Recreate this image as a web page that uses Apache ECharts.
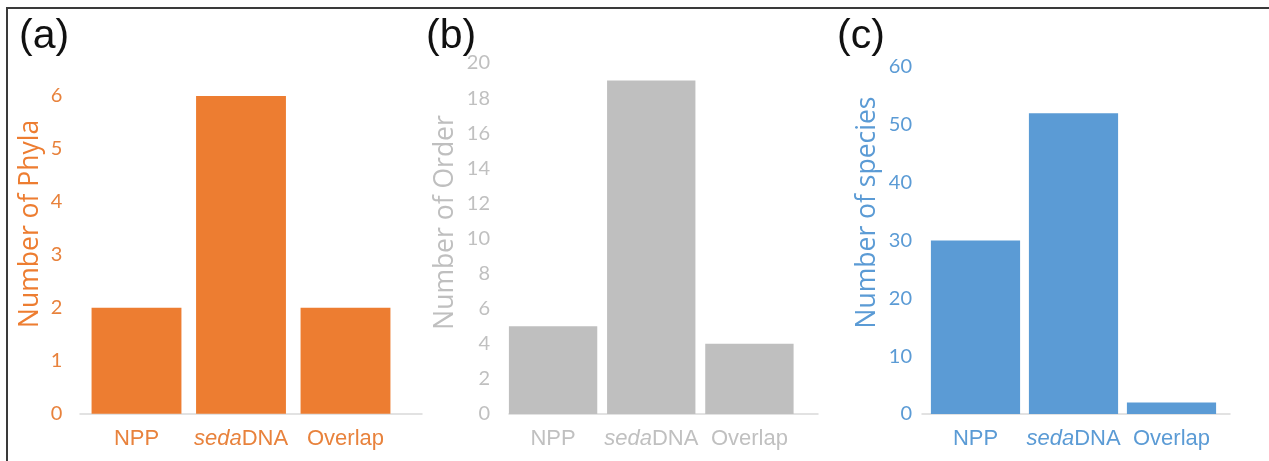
<!DOCTYPE html>
<html>
<head>
<meta charset="utf-8">
<script src="https://cdn.jsdelivr.net/npm/echarts@6/dist/echarts.min.js"></script>
<style>
html,body{margin:0;padding:0;background:#fff;}
#chart{width:1269px;height:461px;}
</style>
</head>
<body>
<div id="chart"></div>
<script>
// ---- data ----
const categories = ['NPP', 'sedaDNA', 'Overlap'];
const phylaCounts = [2, 6, 2];
const orderCounts = [5, 19, 4];
const speciesCounts = [30, 52, 2];
const panelLetters = ['(a)', '(b)', '(c)'];
const axisTitles = ['Number of Phyla', 'Number of Order', 'Number of species'];
const axisMax = [6, 20, 60];
const axisStep = [1, 2, 10];

// ---- styling / layout ----
const colors = ['#ED7D31', '#BFBFBF', '#5B9BD5'];
const textColors = ['#E8823C', '#C0C0C0', '#5B9BD5'];
const values = [phylaCounts, orderCounts, speciesCounts];
const barGrids = [
  {left: 84.25, width: 313.5, top: 96, height: 317.7},
  {left: 504, width: 294.5, top: 63, height: 351},
  {left: 926.5, width: 294, top: 67, height: 347}
];
const lineGrids = [
  {left: 80, width: 342},
  {left: 509, width: 309},
  {left: 922, width: 308}
];
const gaps = ['14%', '10%', '9%'];
const labelMargins = [22, 14, 14.5];
const nameGaps = [40, 45, 46];
const nameShift = [62, 32, 56];
const letterPos = [[19, 16], [426, 16], [837, 16]];

const grid = [], xAxis = [], yAxis = [], series = [], graphic = [];
for (let p = 0; p < 3; p++) {
  const g = barGrids[p];
  grid.push({left: g.left, width: g.width, top: g.top, height: g.height, containLabel: false});
  grid.push({left: lineGrids[p].left, width: lineGrids[p].width, top: g.top, height: g.height, containLabel: false});
  // bar grid axes
  xAxis.push({
    type: 'category', gridIndex: 2 * p, data: categories,
    axisLine: {show: false}, axisTick: {show: false},
    axisLabel: {
      interval: 0, margin: 14, color: textColors[p], fontSize: 22,
      fontFamily: 'Liberation Sans, Arial, sans-serif',
      formatter: v => v === 'sedaDNA' ? '{i|seda}{n|DNA}' : '{n|' + v + '}',
      rich: {
        i: {fontStyle: 'italic', fontSize: 22, color: textColors[p], fontFamily: 'Liberation Sans, Arial, sans-serif'},
        n: {fontSize: 22, color: textColors[p], fontFamily: 'Liberation Sans, Arial, sans-serif'}
      }
    }
  });
  yAxis.push({
    type: 'value', gridIndex: 2 * p, min: 0, max: axisMax[p], interval: axisStep[p],
    splitLine: {show: false}, axisLine: {show: false}, axisTick: {show: false},
    axisLabel: {margin: labelMargins[p], color: textColors[p], fontSize: 20, fontFamily: 'Lato, sans-serif'},
    name: axisTitles[p], nameLocation: 'middle', nameRotate: 90, nameGap: nameGaps[p],
    nameTextStyle: {color: colors[p], fontSize: 26.5, fontFamily: 'Open Sans, sans-serif', padding: [0, 0, 0, nameShift[p]]}
  });
  // axis line grid
  xAxis.push({
    type: 'value', gridIndex: 2 * p + 1, min: 0, max: 1,
    axisLine: {show: true, lineStyle: {color: '#D9D9D9', width: 1.5}},
    axisTick: {show: false}, axisLabel: {show: false}, splitLine: {show: false}
  });
  yAxis.push({
    type: 'value', gridIndex: 2 * p + 1, min: 0, max: 1, show: false
  });
  series.push({
    type: 'bar', xAxisIndex: 2 * p, yAxisIndex: 2 * p, data: values[p],
    barCategoryGap: gaps[p], itemStyle: {color: colors[p]}, silent: true
  });
  graphic.push({
    type: 'text', left: letterPos[p][0], top: letterPos[p][1],
    style: {text: panelLetters[p], fill: '#111', font: '41px "Liberation Sans", Arial, sans-serif'}
  });
}
// figure frame (top and left edges)
graphic.push({type: 'line', shape: {x1: 7, y1: 8, x2: 1269, y2: 8}, style: {stroke: '#3a3a3a', lineWidth: 2}});
graphic.push({type: 'line', shape: {x1: 7, y1: 7, x2: 7, y2: 461}, style: {stroke: '#3a3a3a', lineWidth: 2}});

const chart = echarts.init(document.getElementById('chart'), null, {renderer: 'canvas'});
chart.setOption({
  animation: false,
  backgroundColor: '#fff',
  grid, xAxis, yAxis, series, graphic
});
</script>
</body>
</html>
